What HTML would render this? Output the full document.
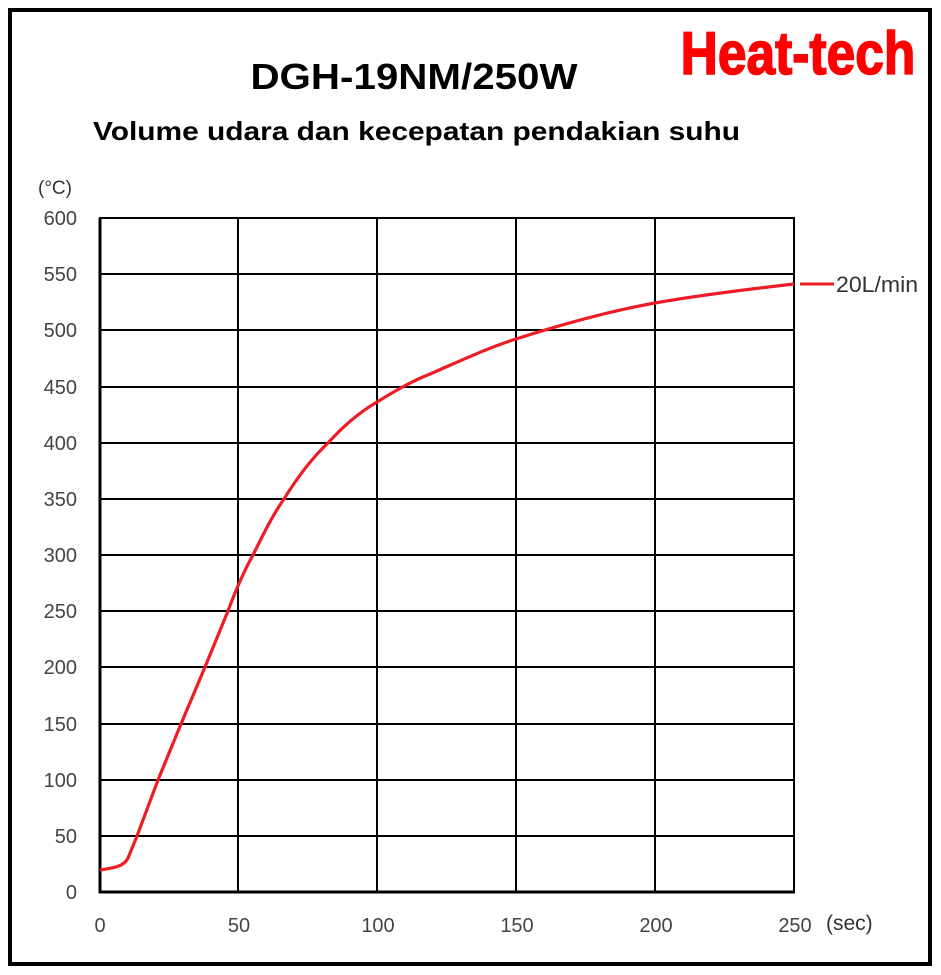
<!DOCTYPE html>
<html><head><meta charset="utf-8"><style>
html,body{margin:0;padding:0;background:#fff;}
svg{display:block;}
text{font-family:"Liberation Sans",sans-serif;}
</style></head><body>
<svg width="941" height="975" viewBox="0 0 941 975">
<rect x="10" y="10" width="920" height="954" fill="#fff" stroke="#000" stroke-width="4"/>
<text x="798" y="74" text-anchor="middle" font-size="56" font-weight="bold" fill="#ff0000" stroke="#ff0000" stroke-width="1.5" transform="translate(798,74) scale(0.92,1.08) translate(-798,-74)">Heat-tech</text>
<text x="414" y="89" text-anchor="middle" font-size="36" font-weight="bold" fill="#000" transform="translate(414,0) scale(1.12,1) translate(-414,0)">DGH-19NM/250W</text>
<text x="93" y="140" font-size="26" font-weight="bold" fill="#000" transform="translate(93,0) scale(1.15,1) translate(-93,0)">Volume udara dan kecepatan pendakian suhu</text>
<text x="38" y="194" font-size="19" fill="#333">(°C)</text>
<g stroke="#000" stroke-width="2">
<line x1="99" y1="218" x2="795" y2="218"/>
<line x1="99" y1="274" x2="795" y2="274"/>
<line x1="99" y1="330" x2="795" y2="330"/>
<line x1="99" y1="387" x2="795" y2="387"/>
<line x1="99" y1="443" x2="795" y2="443"/>
<line x1="99" y1="499" x2="795" y2="499"/>
<line x1="99" y1="555" x2="795" y2="555"/>
<line x1="99" y1="611" x2="795" y2="611"/>
<line x1="99" y1="667" x2="795" y2="667"/>
<line x1="99" y1="724" x2="795" y2="724"/>
<line x1="99" y1="780" x2="795" y2="780"/>
<line x1="99" y1="836" x2="795" y2="836"/>
<line x1="99" y1="892" x2="795" y2="892" stroke-width="3"/>
<line x1="100" y1="218" x2="100" y2="893" stroke-width="3"/>
<line x1="238" y1="218" x2="238" y2="892"/>
<line x1="377" y1="218" x2="377" y2="892"/>
<line x1="516" y1="218" x2="516" y2="892"/>
<line x1="655" y1="218" x2="655" y2="892"/>
<line x1="794" y1="218" x2="794" y2="892"/>
</g>
<g font-size="20" fill="#444" text-anchor="end">
<text x="77" y="225">600</text><text x="77" y="281">550</text><text x="77" y="337">500</text>
<text x="77" y="394">450</text><text x="77" y="450">400</text><text x="77" y="506">350</text>
<text x="77" y="562">300</text><text x="77" y="618">250</text><text x="77" y="674">200</text>
<text x="77" y="731">150</text><text x="77" y="787">100</text><text x="77" y="843">50</text>
<text x="77" y="899">0</text>
</g>
<g font-size="20" fill="#444" text-anchor="middle">
<text x="100" y="932">0</text><text x="239" y="932">50</text><text x="378" y="932">100</text>
<text x="517" y="932">150</text><text x="656" y="932">200</text><text x="795" y="932">250</text>
</g>
<text x="826" y="930" font-size="21" fill="#333">(sec)</text>
<path d="M100,870 C112,868 124,867 128,858 L137,836 L158,780 L181,724 L205,667 L228,611 C235,592 243,573 253,555 C263,535 272,516 284,499 C297,478 312,458 328,443 C345,424 360,412 377,402 C395,391 410,382 430,374 C460,361 490,347 516,339 C560,325 610,311 655,303 C700,295 750,289 794,284" fill="none" stroke="#ee1c25" stroke-width="3.2" stroke-linejoin="round"/>
<line x1="800" y1="284" x2="834" y2="284" stroke="#ee1c25" stroke-width="3"/>
<text x="836" y="292" font-size="22" fill="#333" transform="translate(836,0) scale(1.05,1) translate(-836,0)">20L/min</text>
</svg>
</body></html>
